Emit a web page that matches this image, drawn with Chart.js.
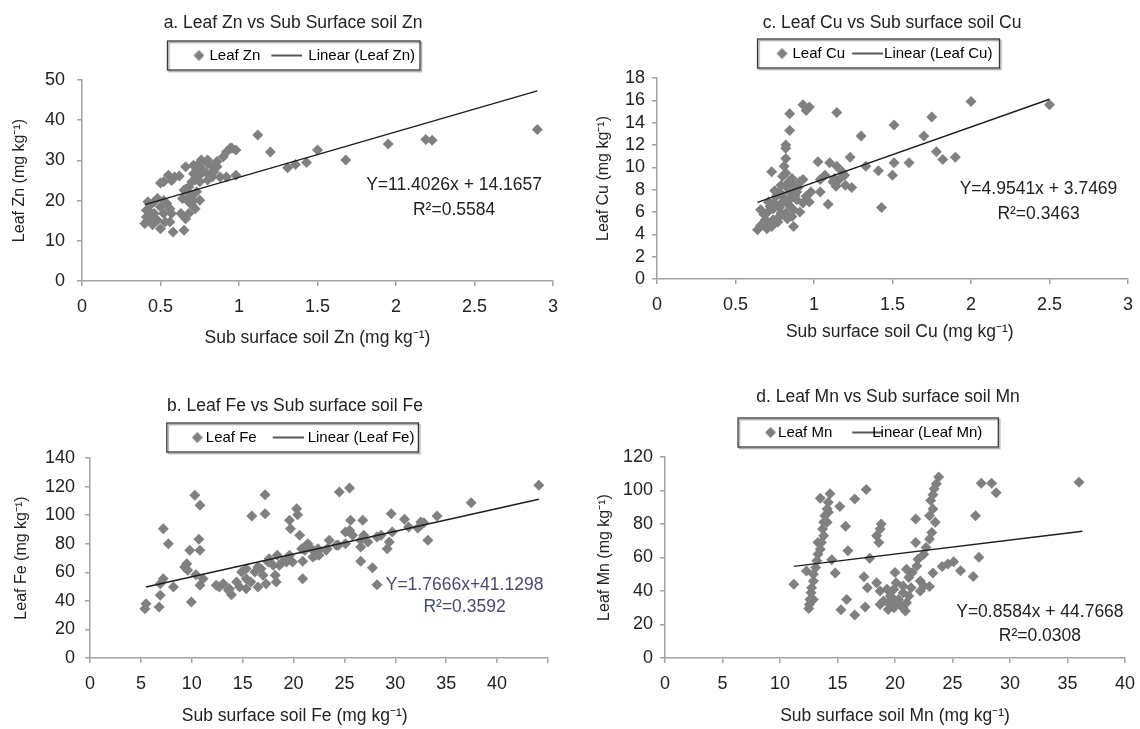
<!DOCTYPE html>
<html>
<head>
<meta charset="utf-8">
<title>Leaf vs sub surface soil micronutrients</title>
<script src="https://cdn.jsdelivr.net/npm/chart.js@4.4.1/dist/chart.umd.min.js"></script>
<style>
  html, body { margin: 0; padding: 0; background: #fff; }
  body { width: 1140px; height: 729px; position: relative; overflow: hidden; }
  canvas { position: absolute; }
</style>
</head>
<body>
<canvas id="chart-zn" width="586" height="365" style="left:0;top:0;width:586px;height:365px"></canvas>
<canvas id="chart-cu" width="644" height="365" style="left:570px;top:0;width:644px;height:365px"></canvas>
<canvas id="chart-fe" width="590" height="360" style="left:0;top:369px;width:590px;height:360px"></canvas>
<canvas id="chart-mn" width="636" height="360" style="left:570px;top:369px;width:636px;height:360px"></canvas>
<script>
// ---- data ----

// a. Zn
const znSoil = [2.90, 2.19, 2.23, 1.95, 1.68, 1.50, 1.43, 1.36, 1.31, 1.20, 1.12, 0.98, 0.945, 0.98, 0.92, 0.88, 0.83, 0.80, 0.75, 0.72, 0.70, 0.68, 0.66, 0.65,
  0.66, 0.71, 0.75, 0.80, 0.77, 0.83, 0.86, 0.90, 0.92, 0.955,
  0.50, 0.52, 0.55, 0.59, 0.62, 0.57,
  0.64, 0.67, 0.71, 0.75, 0.70, 0.72, 0.68, 0.66, 0.65, 0.58, 0.63,
  0.40, 0.41, 0.41, 0.435, 0.42, 0.48, 0.46, 0.50, 0.52, 0.54, 0.56, 0.50, 0.53, 0.56, 0.48, 0.435, 0.57, 0.46, 0.45, 0.52, 0.44,
  0.73, 0.71, 0.84, 0.86, 0.75, 0.80, 0.67, 0.70, 0.73, 0.76, 0.80];
const znLeaf = [37.7, 35.2, 35.0, 34.1, 30.1, 32.6, 29.5, 29.0, 28.2, 32.1, 36.3, 32.6, 33.1, 26.3, 25.9, 25.9, 25.9, 26.7, 26.3, 25.1, 24.7, 23.4, 22.8, 22.6,
  28.4, 28.8, 29.4, 29.2, 27.6, 28.4, 29.7, 30.9, 32.1, 33.0,
  24.4, 24.7, 26.3, 25.9, 26.1, 25.0,
  20.5, 20.1, 20.1, 20.1, 18.9, 18.0, 16.8, 15.5, 12.6, 12.2, 16.8,
  14.3, 15.9, 17.6, 18.9, 19.7, 20.5, 16.8, 18.4, 16.8, 19.3, 18.0, 13.0, 14.7, 14.7, 15.1, 15.1, 16.8, 19.7, 14.0, 20.0, 17.0,
  27.6, 26.7, 27.2, 28.4, 24.7, 25.1, 22.2, 21.3, 22.2, 30.1, 30.1];
const znTrendX = [0.40, 2.90];
const znTrendY = [19.0, 47.3];
const znXTicks = ['0', '0.5', '1', '1.5', '2', '2.5', '3'];
const znYTicks = ['0', '10', '20', '30', '40', '50'];

// c. Cu
const cuSoil = [2.50, 2.00, 1.90, 1.82, 1.78, 1.75, 1.70, 1.605, 1.51, 1.50, 1.51, 1.43, 1.41, 1.33, 1.30, 1.24, 1.23, 1.195, 1.16, 1.14, 1.12, 1.145, 1.10, 1.07, 1.04, 1.145, 1.025, 1.04, 1.09, 0.97,
  0.93, 0.97, 0.95, 0.845, 0.845, 0.82, 0.82, 0.82, 0.81, 0.73,
  0.64, 0.70, 0.87, 0.74, 0.78, 0.70, 0.66, 0.74, 0.82, 0.87, 0.91, 0.93, 0.89, 0.845, 0.80, 0.76, 0.78, 0.82, 0.87, 0.91, 0.93, 0.89, 0.95, 0.98, 0.845,
  0.80, 0.82, 0.79, 0.74, 0.71, 0.69, 0.78, 0.86, 0.72, 0.77, 1.18, 1.13, 1.20,
  0.68, 0.72, 0.76, 0.80, 0.84, 0.88, 0.75, 0.84, 0.90, 0.86, 0.79, 0.83, 0.66, 0.73];
const cuLeaf = [15.6, 15.9, 10.9, 10.7, 11.4, 14.5, 12.8, 10.4, 10.4, 9.3, 13.8, 6.4, 9.7, 10.1, 12.8, 8.2, 10.9, 9.3, 8.9, 8.3, 8.7, 10.1, 10.4, 9.3, 8.9, 14.9, 10.5, 7.8, 6.7, 6.9,
  15.6, 15.4, 15.1, 14.8, 13.3, 12.0, 11.7, 10.8, 10.1, 9.6,
  4.4, 4.5, 4.7, 5.3, 5.6, 5.9, 6.2, 6.3, 5.9, 6.2, 6.0, 6.8, 7.1, 7.1, 7.4, 7.4, 7.8, 8.3, 8.4, 8.7, 8.9, 7.8, 7.4, 7.8, 7.8,
  9.2, 9.5, 8.4, 6.8, 6.9, 5.3, 6.4, 5.6, 5.0, 5.1, 9.6, 9.0, 8.4,
  5.8, 6.5, 6.6, 6.9, 6.6, 7.5, 7.9, 8.7, 8.2, 9.0, 5.9, 5.4, 4.8, 4.7];
const cuTrendX = [0.64, 2.50];
const cuTrendY = [6.86, 16.1];
const cuXTicks = ['0', '0.5', '1', '1.5', '2', '2.5', '3'];
const cuYTicks = ['0', '2', '4', '6', '8', '10', '12', '14', '16', '18'];

// b. Fe
const feSoil = [44.1, 37.45, 34.1, 33.2, 32.5, 32.2, 32.8, 30.9, 29.6, 29.7, 29.4, 29.2, 28.6, 28.2, 27.75, 26.8, 26.6, 26.6, 27.3, 26.9,
  25.5, 24.5, 25.6, 25.5, 25.8, 25.1, 24.4, 23.5, 23.2, 22.2, 21.9, 22.5, 21.4, 21.1, 20.9, 20.8, 20.6, 20.3, 20.4, 19.6, 19.7, 20.9,
  18.6, 19.3, 19.9, 19.6, 18.3, 18.2, 17.2, 17.2, 15.9,
  13.7, 13.1, 13.6, 12.7, 12.4, 13.9, 15.35, 15.35, 14.9, 14.4, 15.8, 16.2, 16.5, 16.8, 17.0, 17.5, 18.0, 18.4, 18.9, 16.5, 17.3, 15.35, 14.7,
  17.6, 19.3, 21.1, 21.4, 22.4, 21.9, 22.5, 23.3, 24.2, 25.1, 26.6, 28.2, 31.3, 32.5,
  10.8, 11.1, 10.4, 10.8, 10.7, 10.3, 10.8, 9.8, 9.5, 9.6, 9.3, 9.96, 8.2, 7.2, 7.7, 7.2, 6.9, 6.9, 6.8, 5.4, 5.5];
const feLeaf = [120.9, 108.7, 99.4, 82.4, 92.9, 91.0, 94.7, 97.1, 101, 88.2, 81.2, 76.5, 85.9, 51.3, 63.2, 96.4, 67.7, 77.7, 81.2, 85.9,
  119, 116.2, 96.4, 89.4, 85.9, 80, 78.9, 82.4, 75.4, 71.9, 75.4, 75.4, 78.9, 75.4, 67.7, 76.5, 85.9, 104.5, 100.3, 96.4, 90.5, 55.5,
  64.9, 67.2, 67.2, 71.9, 53.2, 57.9, 114.3, 101, 99.4,
  48.5, 52, 47.4, 49.7, 50.9, 44.3, 55.5, 62.5, 60.2, 53.2, 53.2, 60.2, 63.7, 62.5, 57.9, 67.2, 64.9, 71.9, 67.2, 49.7, 52, 48.5, 49.7,
  69.5, 68.4, 77.7, 80, 76.5, 70.7, 71.9, 76.5, 78.9, 88.2, 82.4, 84.7, 91.7, 95.2,
  50.9, 55.5, 58.3, 75.4, 83.1, 113.9, 106.9, 75.4, 66, 61.4, 63.7, 39.2, 49.7, 90.5, 80, 55.5, 52, 43.9, 35.7, 34.5, 38];
const feTrendX = [5.5, 44.1];
const feTrendY = [49.7, 111.1];
const feXTicks = ['0', '5', '10', '15', '20', '25', '30', '35', '40', ''];
const feYTicks = ['0', '20', '40', '60', '80', '100', '120', '140'];

// d. Mn
const mnSoil = [36.0, 27.5, 28.4, 28.8, 27.0, 27.3, 26.8, 25.7, 25.1, 24.6, 24.1, 23.3, 23.0,
  23.8, 23.6, 23.4, 23.3, 23.1, 23.3, 23.0, 23.5, 23.2, 23.0, 22.7, 22.5, 22.0, 21.9, 21.5, 21.2, 21.0, 21.8, 22.2, 22.5, 22.2, 21.8,
  20.0, 20.1, 19.9, 19.6, 19.4, 19.4, 19.9, 20.3, 20.7, 21.0, 20.7, 20.9, 20.4, 19.0, 18.7, 18.7, 19.3, 19.9, 21.2, 21.4, 20.7,
  18.4, 18.6, 18.7, 18.8, 18.4, 17.8, 17.6, 17.3, 17.5, 17.4, 16.5, 16.5, 15.9, 15.7, 15.8, 15.2, 15.3, 14.8, 14.5,
  14.35, 13.5, 14.2, 14.1, 13.9, 13.8, 13.7, 13.8, 13.6, 13.5, 13.3, 13.2, 13.1, 12.9, 12.9, 12.75, 12.7, 12.6, 12.55, 12.5, 12.3, 13.3, 14.1, 14.2, 12.9, 11.2];
const mnLeaf = [105, 104.4, 104.4, 98.6, 85, 60.1, 48.7, 52.1, 57.5, 56.1, 54.7, 50.7, 42.7,
  108, 104, 101, 97.4, 94, 89, 85, 81, 75, 71, 66, 62, 59, 55, 51, 48, 53, 69, 46, 43, 40, 83,
  51, 45, 41, 37, 33, 29, 30, 35, 39, 33, 30, 28, 32, 34, 32, 40, 41, 35, 37, 42, 43,
  45, 69, 77, 80, 73, 59.5, 42, 48.5, 100.6, 30.5, 95, 25.6, 64, 78.7, 35, 90.5, 28.8, 50.7, 58.7,
  98, 95.4, 93, 89, 85, 81, 77, 73, 69, 65, 62, 58, 54, 50, 46, 42, 39, 35, 32, 29.5, 52, 69, 81, 87, 35, 44];
const mnTrendX = [11.2, 36.3];
const mnTrendY = [54.7, 75.7];
const mnXTicks = ['0', '5', '10', '15', '20', '25', '30', '35', '40'];
const mnYTicks = ['0', '20', '40', '60', '80', '100', '120'];

// ---- look ----
const FONT = "'Liberation Sans', Arial, sans-serif";
const MARKER = '#808080';
const TREND = '#1e1e1e';
const AXIS = '#a3a3a3';
const TEXT = '#222';
const LEGEND_FONT = 15;
const BOX_W = 31;

Chart.defaults.font.family = FONT;
Chart.defaults.color = TEXT;

const pairs = (xs, ys) => xs.map((v, i) => ({ x: v, y: ys[i] }));

// width of n spaces in the legend font (used to nudge a legend sideways)
function spaceWidth(n) {
  const g = document.createElement('canvas').getContext('2d');
  g.font = LEGEND_FONT + 'px ' + FONT;
  return g.measureText(' '.repeat(n)).width;
}

// legend icon in a small canvas; the mark sits at its right end, `gap` px before the text
function legendIcon(kind, gap) {
  const w = BOX_W + LEGEND_FONT - 2 * gap;
  const c = document.createElement('canvas');
  c.width = w;
  c.height = 14;
  const g = c.getContext('2d');
  if (kind === 'diamond') {
    g.fillStyle = MARKER;
    g.beginPath();
    g.moveTo(w - 11, 7);
    g.lineTo(w - 5.5, 1.5);
    g.lineTo(w, 7);
    g.lineTo(w - 5.5, 12.5);
    g.closePath();
    g.fill();
  } else {
    g.strokeStyle = TREND;
    g.lineWidth = 1.5;
    g.beginPath();
    g.moveTo(w - 31, 7);
    g.lineTo(w, 7);
    g.stroke();
  }
  return c;
}

function buildPanel(id, p) {
  const iconPoint = legendIcon('diamond', p.gapPoint);
  const iconLine = legendIcon('line', p.gapLine);
  const shift = p.legendShift || 0;              // trailing spaces on the last entry push the row left
  const shiftW = spaceWidth(shift);

  // frame round the legend entries
  const legendFrame = {
    id: 'legendFrame',
    afterDraw(chart) {
      const hb = chart.legend.legendHitBoxes;
      if (!hb || !hb.length) return;
      const first = hb[0], last = hb[hb.length - 1];
      const cy = first.top + first.height / 2;
      const left = first.left + p.frameL;
      const right = last.left + last.width - shiftW + p.frameR;
      const ctx = chart.ctx;
      ctx.save();
      ctx.shadowColor = 'rgba(0,0,0,0.35)';
      ctx.shadowOffsetX = 1.5;
      ctx.shadowOffsetY = 1.5;
      ctx.shadowBlur = 1;
      ctx.strokeStyle = '#3a3a3a';
      ctx.lineWidth = 1.3;
      ctx.strokeRect(left, cy - 14.5, right - left, 29);
      ctx.restore();
    }
  };

  // regression equation + R²
  const equation = {
    id: 'equation',
    afterDatasetsDraw(chart) {
      const ctx = chart.ctx;
      const px = chart.scales.x.getPixelForValue(p.eqAt[0]);
      const py = chart.scales.y.getPixelForValue(p.eqAt[1]);
      ctx.save();
      ctx.font = '17.5px ' + FONT;
      ctx.fillStyle = p.eqColor;
      ctx.textAlign = 'center';
      ctx.textBaseline = 'middle';
      p.eqLines.forEach((t, i) => ctx.fillText(t, px, py + i * p.eqGap));
      ctx.restore();
    }
  };

  const axisCommon = {
    type: 'linear',
    grid: { display: true, drawOnChartArea: false, drawTicks: true, tickLength: 5, color: AXIS, lineWidth: 1.5 },
    border: { display: true, color: AXIS, width: 1.5 }
  };

  return new Chart(document.getElementById(id), {
    type: 'scatter',
    data: {
      datasets: [
        {
          label: p.pointLabel,
          data: pairs(p.xs, p.ys),
          pointStyle: 'rectRot',
          pointRadius: 5.5,
          pointHoverRadius: 5.5,
          backgroundColor: MARKER,
          borderColor: MARKER,
          borderWidth: 0,
          order: 1
        },
        {
          label: p.lineLabel,
          data: pairs(p.trendX, p.trendY),
          showLine: true,
          pointRadius: 0,
          borderColor: TREND,
          borderWidth: 1.5,
          fill: false,
          order: 0
        }
      ]
    },
    options: {
      responsive: false,
      animation: false,
      events: [],
      layout: { padding: 0 },
      scales: {
        x: Object.assign({}, axisCommon, {
          min: 0, max: p.xMax,
          afterFit: s => { s.height = p.xAxisH; },
          ticks: { stepSize: p.xStep, padding: 10, maxRotation: 0, autoSkip: false, color: TEXT, font: { size: 18 },
            callback: (v, i) => p.xTicks[i] ?? '' },
          title: { display: true, text: p.xTitle, color: TEXT, font: { size: 17.5 }, padding: { top: 0, bottom: p.xTitlePadB } }
        }),
        y: Object.assign({}, axisCommon, {
          min: 0, max: p.yMax,
          afterFit: s => { s.width = p.yAxisW; },
          ticks: { stepSize: p.yStep, padding: p.yTickPad, autoSkip: false, color: TEXT, font: { size: 18 },
            callback: (v, i) => p.yTicks[i] ?? '' },
          title: { display: true, text: p.yTitle, color: TEXT, font: { size: 16 }, padding: { top: p.yTitlePadT, bottom: 0 } }
        }),
        // empty right-hand box so the title/legend centre matches the figure
        yR: {
          type: 'linear', position: 'right', display: true,
          afterFit: s => { s.width = p.rightW; },
          ticks: { display: false }, grid: { display: false }, border: { display: false }
        }
      },
      plugins: {
        tooltip: { enabled: false },
        title: {
          display: true, text: p.title, color: TEXT,
          font: { size: 17.5, weight: 'normal' },
          padding: { top: p.titlePadT, bottom: p.titlePadB }
        },
        legend: {
          display: true,
          labels: {
            usePointStyle: true,
            pointStyleWidth: BOX_W,
            boxWidth: BOX_W,
            boxHeight: LEGEND_FONT,
            padding: p.legendPad,
            color: TEXT,
            font: { size: LEGEND_FONT },
            generateLabels: () => [
              { text: p.pointLabel, pointStyle: iconPoint, fillStyle: MARKER, strokeStyle: MARKER, lineWidth: 0, hidden: false, datasetIndex: 0 },
              { text: p.lineLabel + ' '.repeat(shift), pointStyle: iconLine, fillStyle: TREND, strokeStyle: TREND, lineWidth: 0, hidden: false, datasetIndex: 1 }
            ]
          }
        },
        // empty spacer between legend and plot
        subtitle: {
          display: true, text: '', weight: 500,
          font: { size: 1, lineHeight: 1 },
          padding: { top: p.spacer - 1, bottom: 0 }
        }
      }
    },
    plugins: [legendFrame, equation]
  });
}

document.addEventListener('DOMContentLoaded', function () {

  buildPanel('chart-zn', {
    title: 'a. Leaf Zn vs Sub Surface soil Zn',
    pointLabel: 'Leaf Zn', lineLabel: 'Linear (Leaf Zn)',
    xs: znSoil, ys: znLeaf, trendX: znTrendX, trendY: znTrendY,
    xTicks: znXTicks, yTicks: znYTicks, xMax: 3, xStep: 0.5, yMax: 50, yStep: 10,
    xTitle: 'Sub surface soil Zn (mg kg\u207B\u00B9)', yTitle: 'Leaf Zn (mg kg\u207B\u00B9)',
    eqLines: ['Y=11.4026x + 14.1657', 'R\u00B2=0.5584'], eqAt: [2.37, 23.9], eqGap: 25, eqColor: TEXT,
    yAxisW: 82, rightW: 33, yTitlePadT: 10.4, xAxisH: 84, xTitlePadB: 16.2, yTickPad: 12,
    titlePadT: 12.5, titlePadB: 5, legendPad: 9.5, spacer: 7,
    gapPoint: 5, gapLine: 6, frameL: -3.5, frameR: 5
  });

  buildPanel('chart-cu', {
    title: 'c. Leaf Cu vs Sub surface soil Cu',
    pointLabel: 'Leaf Cu', lineLabel: 'Linear (Leaf Cu)',
    xs: cuSoil, ys: cuLeaf, trendX: cuTrendX, trendY: cuTrendY,
    xTicks: cuXTicks, yTicks: cuYTicks, xMax: 3, xStep: 0.5, yMax: 18, yStep: 2,
    xTitle: '   Sub surface soil Cu (mg kg\u207B\u00B9)', yTitle: 'Leaf Cu (mg kg\u207B\u00B9)',
    eqLines: ['Y=4.9541x + 3.7469', 'R\u00B2=0.3463'], eqAt: [2.43, 8.06], eqGap: 25, eqColor: TEXT,
    yAxisW: 87, rightW: 86, yTitlePadT: 24.4, xAxisH: 86, xTitlePadB: 22.2, yTickPad: 7,
    titlePadT: 12.8, titlePadB: 11.7, legendPad: 0.5, spacer: 7,
    gapPoint: 5, gapLine: 1, frameL: 3.5, frameR: 7, legendShift: 9
  });

  buildPanel('chart-fe', {
    title: 'b. Leaf Fe vs Sub surface soil Fe',
    pointLabel: 'Leaf Fe', lineLabel: 'Linear (Leaf Fe)',
    xs: feSoil, ys: feLeaf, trendX: feTrendX, trendY: feTrendY,
    xTicks: feXTicks, yTicks: feYTicks, xMax: 45, xStep: 5, yMax: 140, yStep: 20,
    xTitle: 'Sub surface soil Fe (mg kg\u207B\u00B9)          ', yTitle: 'Leaf Fe (mg kg\u207B\u00B9)',
    eqLines: ['Y=1.7666x+41.1298', 'R\u00B2=0.3592'], eqAt: [36.8, 51.1], eqGap: 22, eqColor: '#4a4a6e',
    yAxisW: 90, rightW: 42, yTitlePadT: 12.4, xAxisH: 71, xTitlePadB: 2.2, yTickPad: 10,
    titlePadT: 26.5, titlePadB: 1, legendPad: 12.5, spacer: 3,
    gapPoint: 3, gapLine: 4, frameL: -0.5, frameR: 4, legendShift: 2
  });

  buildPanel('chart-mn', {
    title: 'd. Leaf Mn vs Sub surface soil Mn',
    pointLabel: 'Leaf Mn', lineLabel: 'Linear (Leaf Mn)',
    xs: mnSoil, ys: mnLeaf, trendX: mnTrendX, trendY: mnTrendY,
    xTicks: mnXTicks, yTicks: mnYTicks, xMax: 40, xStep: 5, yMax: 120, yStep: 20,
    xTitle: 'Sub surface soil Mn (mg kg\u207B\u00B9)', yTitle: 'Leaf Mn (mg kg\u207B\u00B9)',
    eqLines: ['Y=0.8584x + 44.7668', 'R\u00B2=0.0308'], eqAt: [32.6, 27.5], eqGap: 24, eqColor: TEXT,
    yAxisW: 95, rightW: 81, yTitlePadT: 25.4, xAxisH: 71, xTitlePadB: 2.2, yTickPad: 7,
    titlePadT: 17.5, titlePadB: 16, legendPad: 1.5, spacer: 7,
    gapPoint: 2, gapLine: -11, frameL: -1.5, frameR: 16, legendShift: 13
  });
});
</script>
</body>
</html>
